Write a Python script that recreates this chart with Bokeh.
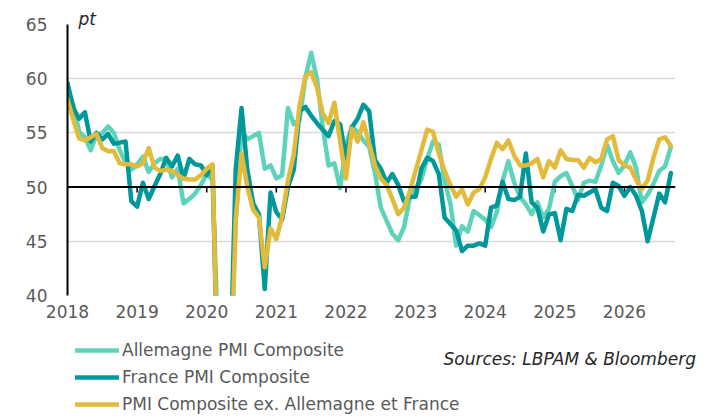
from bokeh.plotting import figure
from bokeh.layouts import column
from bokeh.models import Range1d, FixedTicker, Span, Legend, LegendItem, Label
from bokeh.embed import file_html
from bokeh.resources import INLINE

# ---- data (monthly, Jan 2018 onwards) ----
months = list(range(105))
year_ticks = [0, 12, 24, 36, 48, 60, 72, 84, 96]
year_labels = ["2018", "2019", "2020", "2021", "2022", "2023", "2024", "2025", "2026"]
y_ticks = [40, 45, 50, 55, 60, 65]

allemagne = [
    59.0, 57.6, 55.1, 54.6, 53.4, 54.8, 55.0, 55.6, 55.0, 53.4, 52.3, 51.6,
    52.1, 52.8, 51.4, 52.2, 52.6, 52.6, 50.9, 51.7, 48.5, 48.9, 49.4, 50.2,
    51.2, 50.7, 35.0, 17.4, 32.3, 47.0, 55.3, 54.4, 54.7, 55.0, 51.7, 52.0,
    50.8, 51.1, 57.3, 55.8, 56.2, 60.1, 62.4, 60.0, 55.5, 52.0, 52.2, 49.9,
    53.8, 55.6, 55.1, 54.3, 53.7, 51.3, 48.1, 46.9, 45.7, 45.1, 46.3, 49.0,
    49.9, 50.7, 52.6, 54.2, 53.9, 50.6, 48.5, 44.6, 46.4, 45.9, 47.8, 47.4,
    47.0, 46.3, 47.7, 50.6, 52.4, 50.4, 49.1, 48.4, 47.5, 48.6, 47.2, 48.0,
    50.5, 51.0, 51.3, 50.1, 48.8, 50.4, 50.6, 50.5, 52.0, 53.9, 52.4, 51.3,
    52.0, 53.2, 51.8, 48.6, 49.3, 50.3, 51.5, 51.9, 53.7,
]
france = [
    59.6, 57.3, 56.3, 56.9, 54.2, 55.0, 54.4, 54.9, 54.0, 54.1, 54.2, 48.7,
    48.2, 50.4, 48.9, 50.1, 51.2, 52.7, 51.9, 52.9, 50.8, 52.6, 52.1, 52.0,
    51.1, 52.0, 28.9, 11.1, 32.1, 51.7, 57.3, 51.6, 48.5, 47.5, 40.6, 49.5,
    47.7, 47.0, 50.0, 51.6, 57.0, 57.4, 56.6, 55.9, 55.3, 54.7, 56.1, 55.8,
    52.7, 55.5, 56.3, 57.6, 57.0, 52.5, 51.7, 50.4, 51.2, 50.2, 48.7, 49.1,
    49.1, 51.7, 52.7, 52.4, 51.2, 47.2, 46.6, 46.0, 44.1, 44.6, 44.6, 44.8,
    44.6, 48.1, 48.3, 50.5, 48.9, 48.8, 49.1, 53.1, 48.6, 48.1, 45.9, 47.5,
    47.6, 45.1, 48.0, 47.8, 49.3, 49.2, 49.5, 49.8, 48.1, 47.8, 50.4, 50.1,
    49.2, 50.0, 49.2, 47.8, 45.0, 47.2, 49.4, 48.6, 51.3,
]
ex_all_fr = [
    58.1, 56.2, 54.5, 54.3, 54.6, 54.9, 53.6, 53.3, 53.3, 52.2, 52.1, 52.1,
    51.9, 52.2, 53.6, 51.8, 51.5, 51.6, 51.5, 51.1, 50.8, 50.7, 50.7, 51.1,
    51.7, 52.1, 30.0, 14.0, 30.0, 47.0, 53.1, 50.0, 47.9, 47.2, 42.6, 46.2,
    45.2, 47.3, 50.6, 53.0, 57.5, 60.2, 60.6, 59.2, 56.8, 55.9, 57.8, 54.2,
    50.8, 55.4, 54.2, 56.0, 54.0, 52.0, 50.8, 50.2, 48.9, 47.5, 48.1, 49.6,
    51.5, 53.4, 55.3, 55.1, 53.1, 51.5, 50.2, 49.1, 49.8, 48.4, 49.5, 49.8,
    50.9, 52.6, 54.1, 53.5, 54.3, 52.9, 52.0, 52.0, 52.2, 52.6, 50.9, 52.4,
    51.8, 53.4, 52.6, 52.5, 52.5, 51.8, 52.7, 52.3, 52.6, 54.4, 54.7, 52.5,
    52.0, 51.8, 50.7, 49.8, 50.6, 52.7, 54.4, 54.6, 53.8,
]
series = [allemagne, france, ex_all_fr]
series_names = ["Allemagne PMI Composite", "France PMI Composite",
                "PMI Composite ex. Allemagne et France"]
series_colors = ["#5DD4BA", "#00989A", "#E2BA3C"]
unit_text = "pt"
source_text = "Sources: LBPAM & Bloomberg"

FONT = "DejaVu Sans"
GREY = "#595959"
DARK = "#262626"
W, H_MAIN, H_FOOT = 719, 322, 96

# ---------------- main chart ----------------
p = figure(width=W, height=H_MAIN, output_backend="svg", toolbar_location=None,
           x_range=Range1d(0, 104.8), y_range=Range1d(40, 65),
           min_border_left=67, min_border_right=44, min_border_top=24,
           min_border_bottom=27)
p.outline_line_color = None
p.background_fill_color = "white"
p.border_fill_color = "white"

p.title.text = unit_text
p.title.align = "left"
p.title.offset = 11
p.title.standoff = -9
p.title.text_font = FONT
p.title.text_font_style = "italic"
p.title.text_font_size = "17px"
p.title.text_color = DARK

p.yaxis.ticker = FixedTicker(ticks=y_ticks)
p.yaxis.axis_line_color = "black"
p.yaxis.axis_line_width = 2
p.yaxis.major_tick_line_color = None
p.yaxis.minor_tick_line_color = None
p.yaxis.major_label_standoff = 14
p.yaxis.major_label_text_font = FONT
p.yaxis.major_label_text_font_size = "17px"
p.yaxis.major_label_text_color = GREY

p.xaxis.ticker = FixedTicker(ticks=year_ticks)
p.xaxis.major_label_overrides = {t: l for t, l in zip(year_ticks, year_labels)}
p.xaxis.axis_line_color = None
p.xaxis.major_tick_line_color = None
p.xaxis.minor_tick_line_color = None
p.xaxis.major_label_standoff = 3
p.xaxis.major_label_text_font = FONT
p.xaxis.major_label_text_font_size = "17px"
p.xaxis.major_label_text_color = GREY

p.xgrid.grid_line_color = None
p.ygrid.ticker = FixedTicker(ticks=[t for t in y_ticks if t != 50])
p.ygrid.grid_line_color = "#D9D9D9"
p.ygrid.grid_line_width = 1.5

p.add_layout(Span(location=50, dimension="width", line_color="black", line_width=2))
tx = year_ticks[1:]
p.segment(x0=tx, x1=tx, y0=[50] * len(tx), y1=[49.5] * len(tx),
          line_color="black", line_width=1.5)

for vals, col in zip(series, series_colors):
    p.line(months, vals, line_color=col, line_width=4.5,
           line_join="round", line_cap="round")

# ---------------- footer: legend + source ----------------
f = figure(width=W, height=H_FOOT, output_backend="svg", toolbar_location=None,
           x_range=Range1d(0, W), y_range=Range1d(-H_FOOT, 0),
           x_axis_type=None, y_axis_type=None,
           min_border_left=0, min_border_right=0, min_border_top=0, min_border_bottom=0)
f.outline_line_color = None
f.grid.grid_line_color = None
f.background_fill_color = "white"
f.border_fill_color = "white"
for fig in (p, f):
    try:
        fig.frame_align = False
    except Exception:
        pass

# legend keys: same series, lying outside the footer's visible range
keys = [f.line(months, vals, line_color=c, line_width=4.5, line_cap="round")
        for vals, c in zip(series, series_colors)]
legend = Legend(items=[LegendItem(label=n, renderers=[k]) for n, k in zip(series_names, keys)],
                location=(75, 4), orientation="vertical",
                label_text_font=FONT, label_text_font_size="17px",
                label_text_color=GREY, glyph_width=44, glyph_height=20,
                label_height=20, label_standoff=3, spacing=7, padding=0,
                margin=0, border_line_color=None, background_fill_alpha=0)
f.add_layout(legend)
f.add_layout(Label(x=443, y=-36, text=source_text, text_font=FONT,
                   text_font_style="italic", text_font_size="17px",
                   text_color=DARK, text_baseline="middle"))

page = column(p, f, spacing=0)
open("out.html", "w").write(file_html(page, INLINE))
